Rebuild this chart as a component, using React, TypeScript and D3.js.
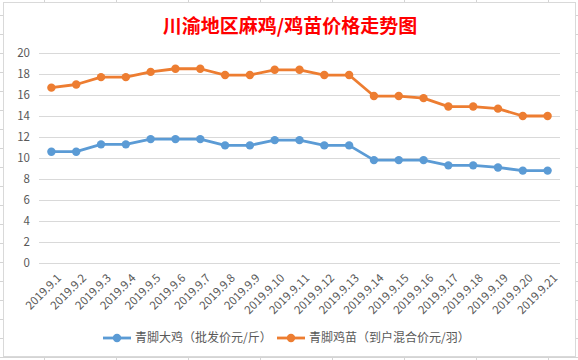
import React from 'react';
import * as d3 from 'd3';

const dates = [
  '2019.9.1', '2019.9.2', '2019.9.3', '2019.9.4', '2019.9.5', '2019.9.6', '2019.9.7',
  '2019.9.8', '2019.9.9', '2019.9.10', '2019.9.11', '2019.9.12', '2019.9.13', '2019.9.14',
  '2019.9.15', '2019.9.16', '2019.9.17', '2019.9.18', '2019.9.19', '2019.9.20', '2019.9.21',
];
const chickenPrice = [
  10.6, 10.6, 11.3, 11.3, 11.8, 11.8, 11.8, 11.2, 11.2, 11.7, 11.7,
  11.2, 11.2, 9.8, 9.8, 9.8, 9.3, 9.3, 9.1, 8.8, 8.8,
];
const chickPrice = [
  16.7, 17.0, 17.7, 17.7, 18.2, 18.5, 18.5, 17.9, 17.9, 18.4, 18.4,
  17.9, 17.9, 15.9, 15.9, 15.7, 14.9, 14.9, 14.7, 14.0, 14.0,
];
const yTicks = [0, 2, 4, 6, 8, 10, 12, 14, 16, 18, 20];
const seriesNames = ['青脚大鸡（批发价元/斤）', '青脚鸡苗（到户混合价元/羽）'];
const title = '川渝地区麻鸡/鸡苗价格走势图';

const W = 578;
const H = 360;
const margin = { left: 39, right: 18, top: 53, bottom: 97 };
const colors = ['#5B9BD5', '#ED7D31'];
const font = '"Noto Sans CJK SC", "Noto Sans", sans-serif';
const textColor = '#595959';

// spreadsheet cell lines behind the chart
const cellCols = d3.range(44, W, 72);
const cellRows = d3.range(15, H, 19);

export default function App() {
  const x = d3
    .scaleBand()
    .domain(dates)
    .range([margin.left, W - margin.right]);
  const y = d3
    .scaleLinear()
    .domain([0, 20])
    .range([H - margin.bottom, margin.top]);
  const cx = (d) => x(d) + x.bandwidth() / 2;

  const line = d3
    .line()
    .x((d, i) => cx(dates[i]))
    .y((d) => y(d));

  const series = [chickenPrice, chickPrice];
  const legendX = [103, 277];
  const legendY = 338;

  return (
    <svg
      width={W}
      height={H}
      viewBox={`0 0 ${W} ${H}`}
      style={{ position: 'absolute', left: 0, top: 0, background: '#fff' }}
      fontFamily={font}
    >
      <g stroke="#D4D4D4" strokeWidth={1}>
        {cellCols.map((c) => (
          <line key={'c' + c} x1={c + 0.5} x2={c + 0.5} y1={0} y2={H} />
        ))}
        {cellRows.map((r) => (
          <line key={'r' + r} x1={0} x2={W} y1={r + 0.5} y2={r + 0.5} />
        ))}
      </g>
      <rect x={3.5} y={2.5} width={572} height={354} fill="#fff" stroke="#D9D9D9" />

      <text
        x={290}
        y={33}
        textAnchor="middle"
        fill="#FF0000"
        fontWeight="bold"
        fontSize={19}
      >
        {title}
      </text>

      <g>
        {yTicks.map((t) => (
          <g key={t}>
            <line
              x1={margin.left}
              x2={W - margin.right}
              y1={Math.round(y(t)) + 0.5}
              y2={Math.round(y(t)) + 0.5}
              stroke="#D9D9D9"
            />
            <text
              x={30}
              y={y(t)}
              dy="0.35em"
              textAnchor="end"
              fontSize={11.5}
              fill={textColor}
            >
              {t}
            </text>
          </g>
        ))}
      </g>

      <g>
        {dates.map((d) => (
          <text
            key={d}
            transform={`translate(${cx(d) + 5}, ${y(0) + 10}) rotate(-45)`}
            textAnchor="end"
            dy="0.7em"
            fontSize={11.5}
            fill={textColor}
          >
            {d}
          </text>
        ))}
      </g>

      {series.map((s, k) => (
        <g key={k}>
          <path
            d={line(s)}
            fill="none"
            stroke={colors[k]}
            strokeWidth={2.8}
            strokeLinejoin="round"
            strokeLinecap="round"
          />
          {s.map((v, i) => (
            <circle key={i} cx={cx(dates[i])} cy={y(v)} r={4.2} fill={colors[k]} />
          ))}
        </g>
      ))}

      {seriesNames.map((name, k) => (
        <g key={name} transform={`translate(${legendX[k]}, ${legendY})`}>
          <line x1={0} x2={28} y1={0} y2={0} stroke={colors[k]} strokeWidth={2.8} />
          <circle cx={14} cy={0} r={4.2} fill={colors[k]} />
          <text x={32} y={0} dy="0.36em" fontSize={12} fill={textColor}>
            {name}
          </text>
        </g>
      ))}
    </svg>
  );
}
